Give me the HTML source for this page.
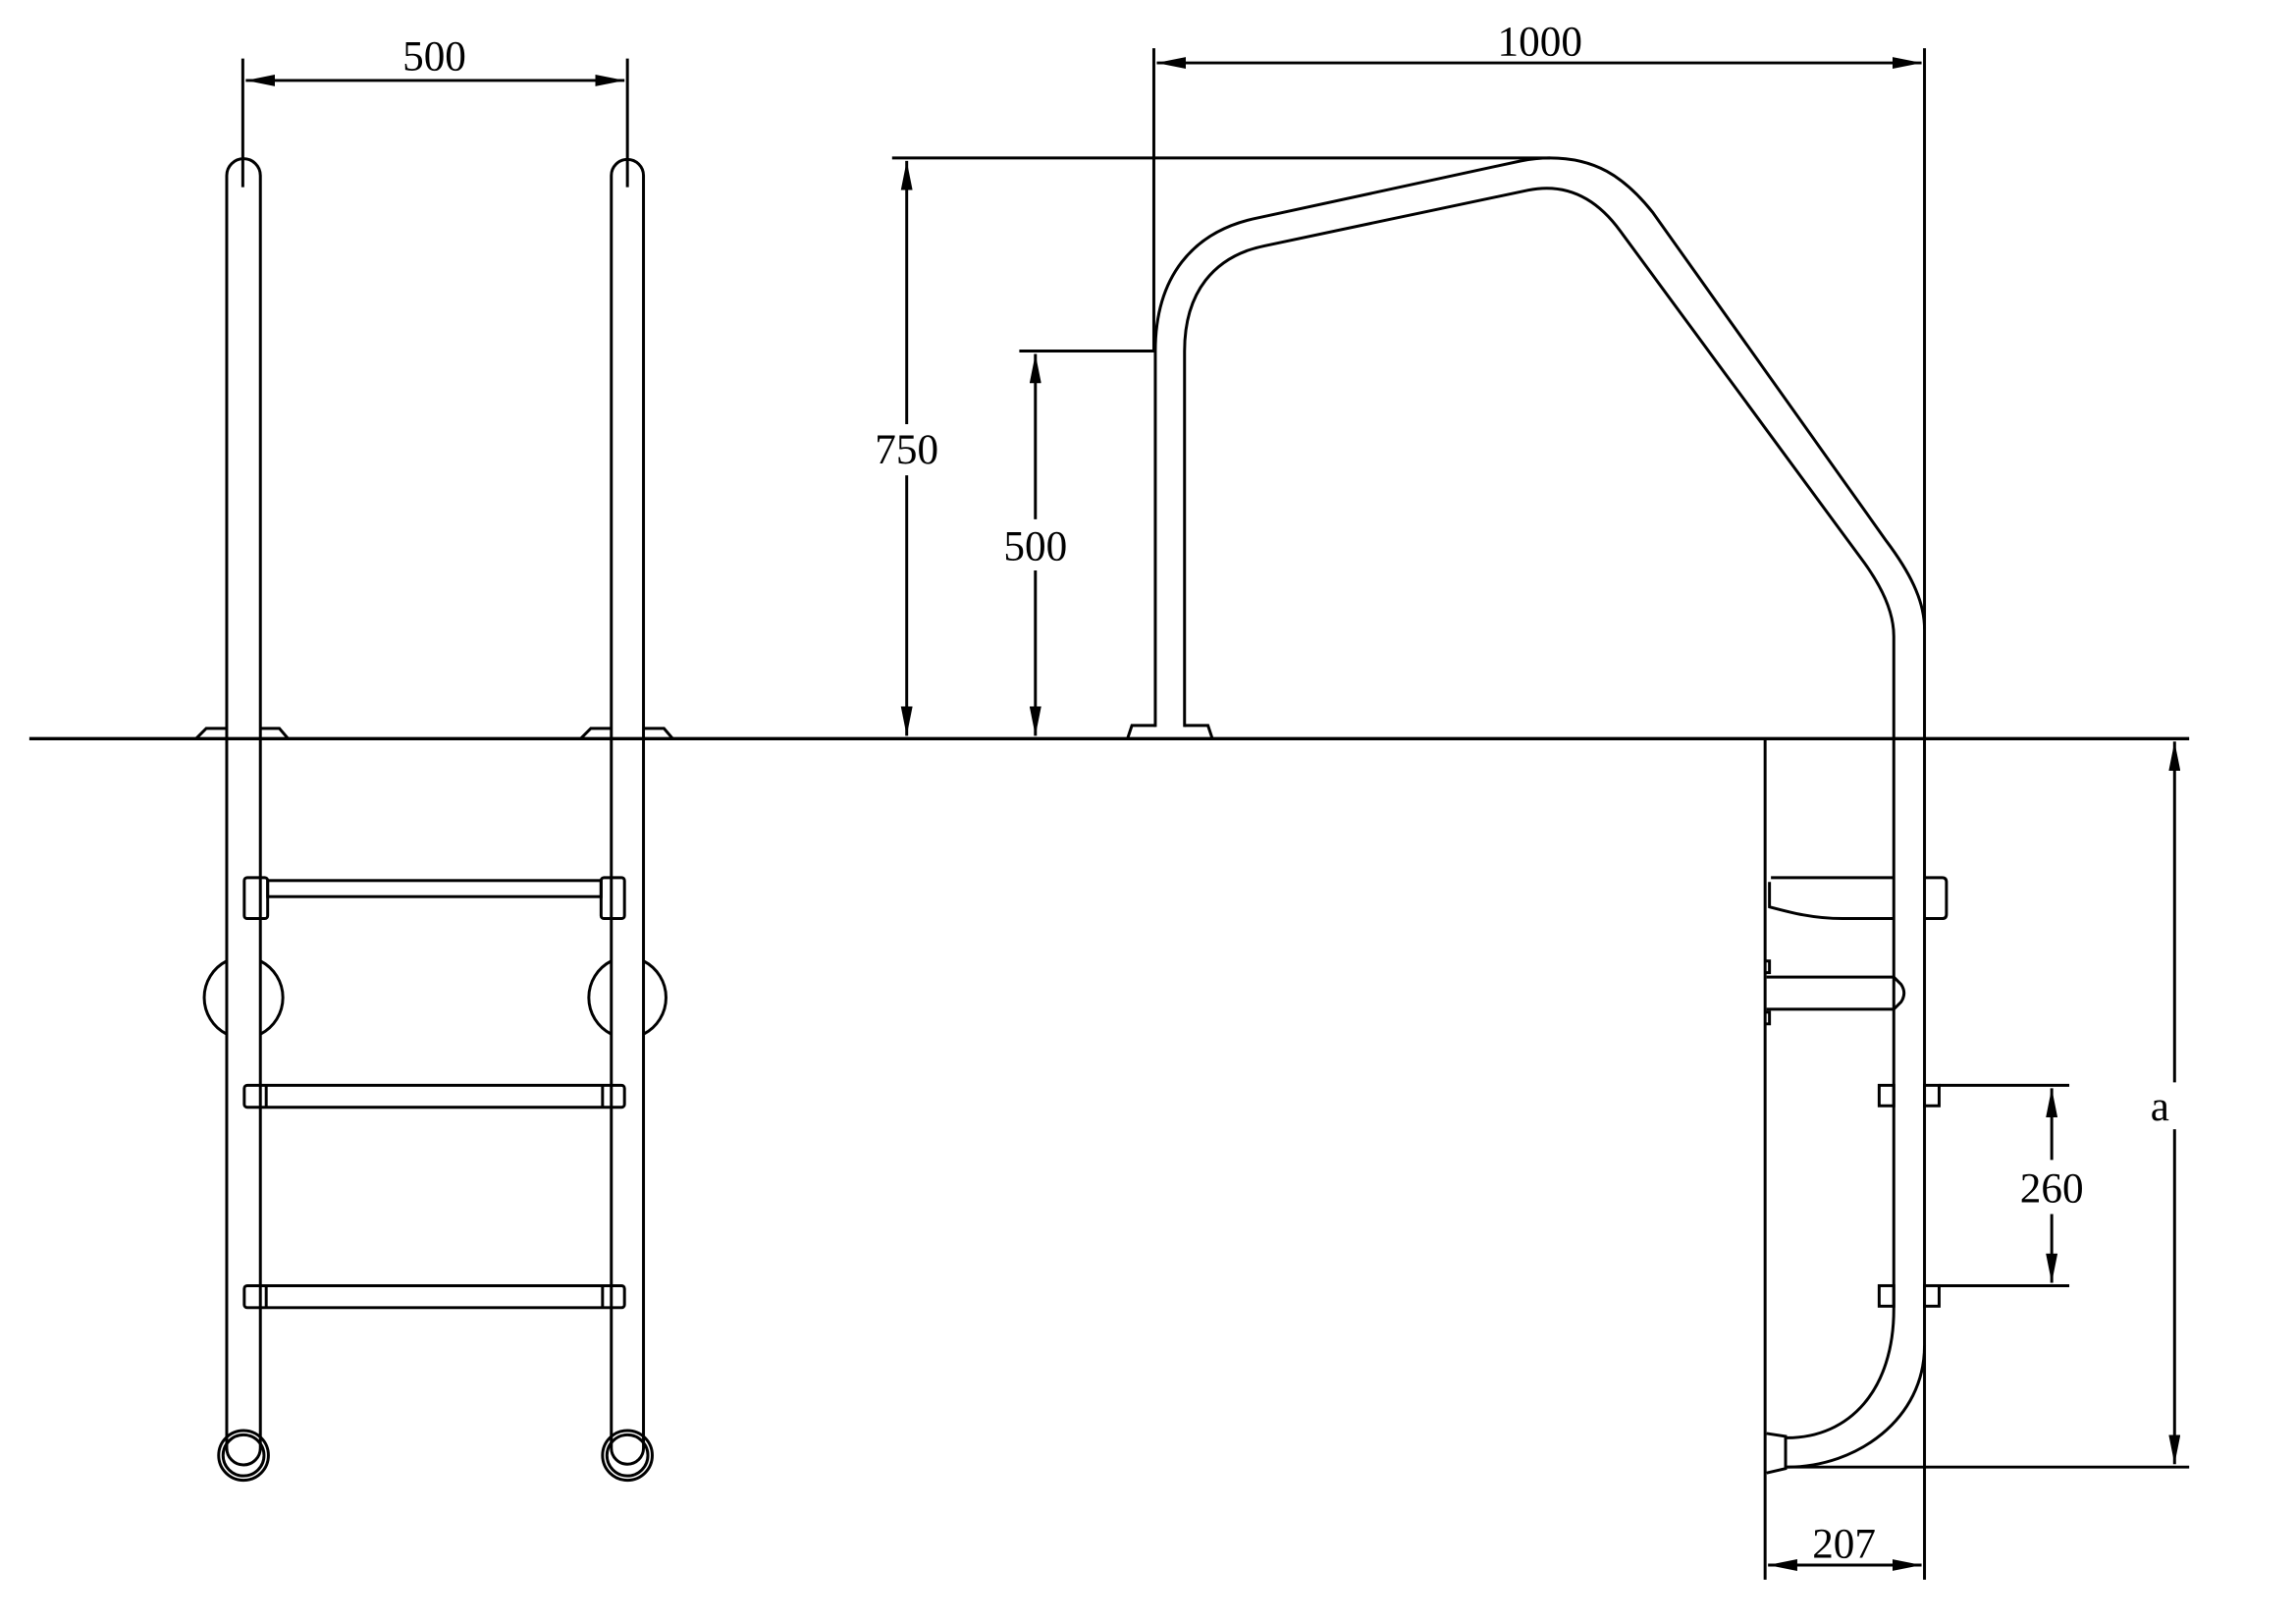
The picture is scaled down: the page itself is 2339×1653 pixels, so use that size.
<!DOCTYPE html>
<html><head><meta charset="utf-8"><style>
html,body{margin:0;padding:0;background:#fff;}
svg{display:block;}
text{font-family:"Liberation Serif",serif;font-size:29px;fill:#000;}
</style></head><body>
<svg width="2339" height="1653" viewBox="0 0 1570 1109.6" xmlns="http://www.w3.org/2000/svg">
<defs>
<marker id="a" viewBox="0 0 20 8" refX="20" refY="4" markerWidth="20" markerHeight="8" markerUnits="userSpaceOnUse" orient="auto-start-reverse"><path d="M0,0 L20,4 L0,8 z" fill="#000"/></marker>
</defs>
<g fill="none" stroke="#000" stroke-width="2">
<line x1="20" y1="505" x2="1497" y2="505" stroke-width="2.2"/>
<path d="M155,990 V120 A11.5,11.5 0 0 1 178,120 V990 A11.5,11.5 0 0 1 155,990"/>
<path d="M418,990 V120 A11,11 0 0 1 440,120 V990 A11,11 0 0 1 418,990"/>
<line x1="166" y1="40" x2="166" y2="128"/>
<line x1="429" y1="40" x2="429" y2="128"/>
<line x1="168" y1="55" x2="427" y2="55" marker-start="url(#a)" marker-end="url(#a)"/>
<path d="M134,505 L141,498 H155 M178,498 H191 L197,505"/>
<path d="M397,505 L404,498 H418 M440,498 H454 L460,505"/>
<rect x="167" y="600" width="16" height="28" rx="2"/>
<rect x="411" y="600" width="16" height="28" rx="2"/>
<rect x="183" y="602" width="228" height="11"/>
<path d="M155,657 A28,28 0 0 0 155,707 M178,657 A28,28 0 0 1 178,707"/>
<path d="M418,657 A28,28 0 0 0 418,707 M440,657 A28,28 0 0 1 440,707"/>
<rect x="167" y="742" width="260" height="15" rx="2"/>
<line x1="182" y1="742" x2="182" y2="757"/><line x1="412" y1="742" x2="412" y2="757"/>
<rect x="167" y="879" width="260" height="15" rx="2"/>
<line x1="182" y1="879" x2="182" y2="894"/><line x1="412" y1="879" x2="412" y2="894"/>
<circle cx="166.5" cy="995" r="17"/><circle cx="166.5" cy="995" r="14"/>
<circle cx="429" cy="995" r="17"/><circle cx="429" cy="995" r="14"/>
<path d="M790,497 V240 C790,190 815,158 860,149 L1040,110 Q1050,108 1060,108 C1090,108 1110,120 1130,145 L1290,370 C1305,390 1316,410 1316,430"/>
<path d="M810,497 V240 C810,200 830,175 865,168 L1045,130 C1075,124 1095,140 1108,158 L1275,385 C1288,403 1295,420 1295,435 V895 C1295,950 1265,983 1222,983"/>
<path d="M1316,920 C1316,970 1270,1003 1222,1003"/>
<path d="M771,505 L774,496 H790 M810,496 H826 L829,505"/>
<line x1="1207" y1="505" x2="1207" y2="1080"/>
<line x1="1316" y1="33" x2="1316" y2="1080"/>
<path d="M1208,980 L1221,982 V1004 L1208,1007"/>
<path d="M1211,600 H1295 M1295,628 H1260 C1240,628 1225,624 1210,620 V603"/>
<path d="M1316,600 H1328 Q1331,600 1331,603 V625 Q1331,628 1328,628 H1316"/>
<path d="M1208,668 H1295 L1300,673 Q1304,679 1300,685 L1295,690 H1208"/>
<path d="M1207,657 h3 v8 h-3 M1207,692 h3 v8 h-3"/>
<rect x="1285" y="742" width="10" height="14"/><rect x="1316" y="742" width="10" height="14"/>
<rect x="1285" y="879" width="10" height="14"/><rect x="1316" y="879" width="10" height="14"/>
<line x1="789" y1="33" x2="789" y2="240"/>
<line x1="791" y1="43" x2="1314" y2="43" marker-start="url(#a)" marker-end="url(#a)"/>
<line x1="610" y1="108" x2="1060" y2="108"/>
<line x1="620" y1="110" x2="620" y2="290" marker-start="url(#a)"/>
<line x1="620" y1="325" x2="620" y2="503" marker-end="url(#a)"/>
<line x1="697" y1="240" x2="790" y2="240"/>
<line x1="708" y1="242" x2="708" y2="355" marker-start="url(#a)"/>
<line x1="708" y1="390" x2="708" y2="503" marker-end="url(#a)"/>
<line x1="1326" y1="742" x2="1415" y2="742"/>
<line x1="1326" y1="879" x2="1415" y2="879"/>
<line x1="1403" y1="744" x2="1403" y2="793" marker-start="url(#a)"/>
<line x1="1403" y1="830" x2="1403" y2="877" marker-end="url(#a)"/>
<line x1="1222" y1="1003" x2="1497" y2="1003"/>
<line x1="1487" y1="507" x2="1487" y2="740" marker-start="url(#a)"/>
<line x1="1487" y1="772" x2="1487" y2="1001" marker-end="url(#a)"/>
<line x1="1209" y1="1070" x2="1314" y2="1070" marker-start="url(#a)" marker-end="url(#a)"/>
</g>
<g text-anchor="middle">
<text x="297" y="48">500</text>
<text x="1053" y="38">1000</text>
<text x="620" y="317">750</text>
<text x="708" y="383">500</text>
<text x="1403" y="822">260</text>
<text x="1477" y="766">a</text>
<text x="1261" y="1065">207</text>
</g>
</svg>
</body></html>
